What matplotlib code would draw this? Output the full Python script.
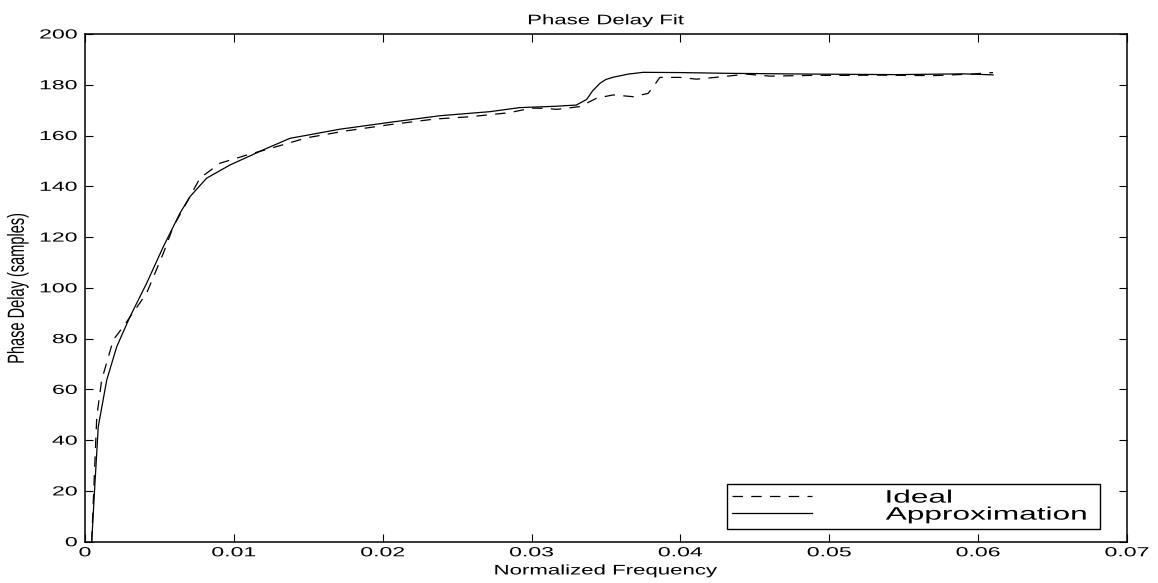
import numpy as np
import matplotlib
matplotlib.use("Agg")
import matplotlib.pyplot as plt
from matplotlib.patheffects import AbstractPathEffect
from matplotlib.transforms import Affine2D

# values
freq_ideal = [0.00045, 0.00062, 0.00079, 0.00112, 0.0019, 0.00257, 0.00414, 0.00526,
              0.00593, 0.00705, 0.00772, 0.00907, 0.01086, 0.0125, 0.01489, 0.0175,
              0.0205, 0.0235, 0.02586, 0.0285, 0.0300, 0.0310, 0.03168, 0.03324,
              0.03437, 0.03548, 0.03682, 0.03783, 0.03817, 0.03862, 0.03996, 0.04108,
              0.04287, 0.04444, 0.0460, 0.04889, 0.05115, 0.05339, 0.0570, 0.0595, 0.0610]
delay_ideal = [0, 25, 49.2, 63.7, 79.5, 84.7, 97.9, 113.6,
               124.1, 135.9, 143.2, 149.1, 152.3, 155.0, 159.1, 161.8,
               164.3, 166.5, 167.4, 169.0, 170.8, 170.7, 170.3, 171.4,
               174.7, 176.0, 175.3, 176.6, 179.2, 182.9, 182.9, 182.2,
               183.2, 184.2, 183.4, 183.7, 183.7, 183.8, 183.6, 184.2, 184.8]

freq_approx = [0.00045, 0.00067, 0.00089, 0.00146, 0.00213, 0.00302, 0.00414, 0.00526,
               0.00638, 0.00705, 0.00817, 0.00974, 0.01195, 0.01377, 0.01713, 0.02048,
               0.02384, 0.0272, 0.0292, 0.0315, 0.0330, 0.0337, 0.0341, 0.0346,
               0.0350, 0.0355, 0.0365, 0.0375, 0.0400, 0.0433, 0.0489, 0.0545,
               0.0590, 0.0610]
delay_approx = [0, 23.1, 45.3, 63.7, 76.8, 88.6, 101.8, 116.2,
                129.4, 135.9, 143.2, 148.4, 154.3, 158.9, 162.5, 165.2,
                167.8, 169.4, 171.0, 171.5, 172.0, 174.2, 177.6, 180.6,
                182.1, 183.0, 184.2, 184.9, 184.8, 184.5, 184.2, 184.0,
                184.3, 183.9]

xticks = [0, 0.01, 0.02, 0.03, 0.04, 0.05, 0.06, 0.07]
xtick_labels = ["0", "0.01", "0.02", "0.03", "0.04", "0.05", "0.06", "0.07"]
yticks = [0, 20, 40, 60, 80, 100, 120, 140, 160, 180, 200]


class StretchX(AbstractPathEffect):
    # widen text horizontally, like the stretched export of the original
    def __init__(self, sx, anchor="center"):
        super().__init__()
        self.sx = sx
        self.anchor = anchor

    def draw_path(self, renderer, gc, tpath, affine, rgbFace=None):
        ext = tpath.get_extents(affine)
        if self.anchor == "left":
            cx = ext.x0
        elif self.anchor == "right":
            cx = ext.x1
        else:
            cx = (ext.x0 + ext.x1) / 2
        t = affine + Affine2D().translate(-cx, 0).scale(self.sx, 1).translate(cx, 0)
        renderer.draw_path(gc, tpath, t, rgbFace)


plt.rcParams["font.family"] = ["Liberation Sans", "DejaVu Sans"]
plt.rcParams["lines.scale_dashes"] = False

fig = plt.figure(figsize=(11.58, 5.83), dpi=100)
ax = fig.add_axes([0.0734, 0.0708, 0.8998, 0.8709])

ax.plot(freq_ideal, delay_ideal, color="black", lw=0.9, dashes=(7.5, 6), label="Ideal")
ax.plot(freq_approx, delay_approx, color="black", lw=0.9, label="Approximation")

ax.set_xlim(0, 0.07)
ax.set_ylim(0, 200)
ax.set_xticks(xticks)
ax.set_xticklabels(xtick_labels)
ax.set_yticks(yticks)
ax.tick_params(direction="in", top=True, right=True, length=6, width=0.8,
               labelsize=9.5, pad=4)
ax.tick_params(axis="y", pad=5.5)
for sp in ax.spines.values():
    sp.set_linewidth(1.1)

for lab in ax.get_xticklabels():
    lab.set_path_effects([StretchX(1.75, "center")])
for lab in ax.get_yticklabels():
    lab.set_path_effects([StretchX(1.75, "right")])

t = ax.set_title("Phase Delay Fit", fontsize=10, pad=7)
t.set_path_effects([StretchX(1.6)])
xl = ax.set_xlabel("Normalized Frequency", fontsize=10, labelpad=3)
xl.set_path_effects([StretchX(1.6)])
yl = ax.set_ylabel("Phase Delay (samples)", fontsize=10.5)
yl.set_path_effects([StretchX(1.6)])
ax.yaxis.set_label_coords(-0.058, 0.5)

leg = ax.legend(loc="lower left", bbox_to_anchor=(0.616, 0.025, 0.358, 0.106),
                mode="expand", borderaxespad=0, fontsize=13, fancybox=False,
                framealpha=1, edgecolor="black", handlelength=4.4,
                handletextpad=4.1, labelspacing=0.0, borderpad=0.3)
leg.get_frame().set_linewidth(1.0)
for txt in leg.get_texts():
    txt.set_path_effects([StretchX(1.75, "left")])

fig.savefig("out.png", dpi=100)
